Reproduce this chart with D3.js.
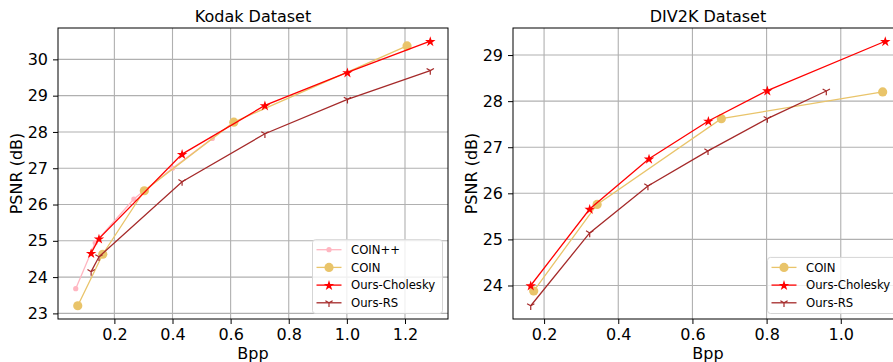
<!DOCTYPE html>
<html>
<head>
<meta charset="utf-8">
<script src="https://cdn.jsdelivr.net/npm/d3@7"></script>
<style>
    body { margin: 0; background: #fff; }
    svg { display: block; font-family: "DejaVu Sans", sans-serif; }
</style>
</head>
<body>
<div id="chart"></div>
<script>

// ---- Kodak data ----
let kodakCoinPPBpp = [0.067, 0.134, 0.267, 0.400, 0.537];
let kodakCoinPPPsnr = [23.68, 24.95, 26.15, 27.00, 27.82];
let kodakCoinBpp = [0.074, 0.160, 0.303, 0.611, 1.207];
let kodakCoinPsnr = [23.21, 24.63, 26.38, 28.27, 30.37];
let kodakOursBpp = [0.120, 0.147, 0.433, 0.718, 1.002, 1.287];
let kodakCholPsnr = [24.66, 25.06, 27.39, 28.73, 29.64, 30.50];
let kodakRSPsnr = [24.15, 24.56, 26.63, 27.95, 28.90, 29.69];

// ---- DIV2K data ----
let divCoinBpp = [0.172, 0.343, 0.678, 1.113];
let divCoinPsnr = [23.88, 25.76, 27.62, 28.20];
let divCholBpp = [0.164, 0.323, 0.483, 0.643, 0.802, 1.120];
let divCholPsnr = [24.00, 25.66, 26.75, 27.57, 28.23, 29.30];
let divRSBpp = [0.164, 0.323, 0.480, 0.642, 0.802, 0.961];
let divRSPsnr = [23.56, 25.14, 26.16, 26.92, 27.62, 28.22];

let kodakXTicks = [0.2, 0.4, 0.6, 0.8, 1.0, 1.2];
let kodakYTicks = [23, 24, 25, 26, 27, 28, 29, 30];
let divXTicks = [0.2, 0.4, 0.6, 0.8, 1.0];
let divYTicks = [24, 25, 26, 27, 28, 29];

let styles = {
    "COIN++": {color: "#ffb6c1", marker: "dot"},
    "COIN": {color: "#e9c46a", marker: "circle"},
    "Ours-Cholesky": {color: "#ff0000", marker: "star"},
    "Ours-RS": {color: "#a52a2a", marker: "tri"}
};

function zip(xs, ys) {
    return xs.map((x, i) => ({x: x, y: ys[i]}));
}

let svg = d3.select("#chart").append("svg")
    .attr("width", 893)
    .attr("height", 362);

class PanelVis {
    constructor(svg, opts) {
        this.svg = svg;
        this.opts = opts;
        this.initVis();
    }

    initVis() {
        let vis = this;
        let o = vis.opts;

        let allX = [], allY = [];
        o.series.forEach(s => s.points.forEach(p => { allX.push(p.x); allY.push(p.y); }));
        // matplotlib style 5% margins
        let xe = d3.extent(allX), ye = d3.extent(allY);
        let xm = (xe[1] - xe[0]) * 0.05, ym = (ye[1] - ye[0]) * 0.05;

        vis.x = d3.scaleLinear().domain([xe[0] - xm, xe[1] + xm]).range([o.left, o.left + o.width]);
        vis.y = d3.scaleLinear().domain([ye[0] - ym, ye[1] + ym]).range([o.bottom, o.top]);

        vis.g = vis.svg.append("g");

        // grid
        vis.g.append("g").selectAll("line").data(o.xTicks).join("line")
            .attr("x1", d => vis.x(d)).attr("x2", d => vis.x(d))
            .attr("y1", o.top).attr("y2", o.bottom)
            .attr("stroke", "#b0b0b0").attr("stroke-width", 1.1);
        vis.g.append("g").selectAll("line").data(o.yTicks).join("line")
            .attr("x1", o.left).attr("x2", o.left + o.width)
            .attr("y1", d => vis.y(d)).attr("y2", d => vis.y(d))
            .attr("stroke", "#b0b0b0").attr("stroke-width", 1.1);

        // axes
        let xAxis = d3.axisBottom(vis.x).tickValues(o.xTicks).tickFormat(d3.format(".1f")).tickSize(5).tickPadding(5);
        let yAxis = d3.axisLeft(vis.y).tickValues(o.yTicks).tickFormat(d3.format("d")).tickSize(5).tickPadding(5);

        let gx = vis.g.append("g").attr("transform", `translate(0,${o.bottom})`).call(xAxis);
        let gy = vis.g.append("g").attr("transform", `translate(${o.left},0)`).call(yAxis);
        [gx, gy].forEach(a => {
            a.select(".domain").remove();
            a.selectAll("line").attr("stroke", "#000").attr("stroke-width", 1);
            a.selectAll("text").attr("font-size", 16).attr("fill", "#000")
                .attr("font-family", "DejaVu Sans");
        });

        // frame
        vis.g.append("rect")
            .attr("x", o.left).attr("y", o.top)
            .attr("width", o.width).attr("height", o.bottom - o.top)
            .attr("fill", "none").attr("stroke", "#000").attr("stroke-width", 1);

        // series
        let line = d3.line().x(d => vis.x(d.x)).y(d => vis.y(d.y));
        o.series.forEach(s => {
            let st = styles[s.name];
            vis.g.append("path")
                .datum(s.points)
                .attr("d", line)
                .attr("fill", "none")
                .attr("stroke", st.color)
                .attr("stroke-width", 1.3);
            s.points.forEach(p => vis.drawMarker(vis.g, st, vis.x(p.x), vis.y(p.y)));
        });

        // title and labels
        vis.g.append("text")
            .attr("x", o.left + o.width / 2).attr("y", 22)
            .attr("text-anchor", "middle").attr("font-size", 16)
            .text(o.title);
        vis.g.append("text")
            .attr("x", o.left + o.width / 2).attr("y", 359)
            .attr("text-anchor", "middle").attr("font-size", 16)
            .text("Bpp");
        vis.g.append("text")
            .attr("transform", `translate(${o.left - 36},${(o.top + o.bottom) / 2}) rotate(-90)`)
            .attr("text-anchor", "middle").attr("font-size", 16)
            .text("PSNR (dB)");

        vis.drawLegend();
    }

    drawMarker(g, st, cx, cy) {
        if (st.marker === "dot") {
            g.append("circle").attr("cx", cx).attr("cy", cy).attr("r", 2.6).attr("fill", st.color);
        } else if (st.marker === "circle") {
            g.append("circle").attr("cx", cx).attr("cy", cy).attr("r", 4.6).attr("fill", st.color);
        } else if (st.marker === "star") {
            g.append("path")
                .attr("d", d3.symbol().type(d3.symbolStar).size(34)())
                .attr("transform", `translate(${cx},${cy + 0.5})`)
                .attr("fill", st.color);
        } else {
            let r = 4.2;
            g.append("path")
                .attr("d", `M${cx},${cy}L${cx},${cy + r}M${cx},${cy}L${cx - r * 0.87},${cy - r * 0.5}M${cx},${cy}L${cx + r * 0.87},${cy - r * 0.5}`)
                .attr("stroke", st.color).attr("stroke-width", 1.2).attr("fill", "none");
        }
    }

    drawLegend() {
        let vis = this;
        let o = vis.opts;
        let names = o.series.map(s => s.name);
        let rowH = 17.7;
        let right = o.left + o.width - 5.5;
        let bottom = o.bottom - 5.5;
        let w = 130;
        let h = names.length * rowH + 3;
        let left = right - w;
        let top = bottom - h;

        let lg = vis.g.append("g");
        lg.append("rect")
            .attr("x", left).attr("y", top).attr("width", w).attr("height", h)
            .attr("rx", 3)
            .attr("fill", "#fff").attr("fill-opacity", 0.8)
            .attr("stroke", "#d5d5d5").attr("stroke-width", 1);

        names.forEach((n, i) => {
            let st = styles[n];
            let cy = top + 10 + i * rowH;
            lg.append("line")
                .attr("x1", left + 4).attr("x2", left + 29)
                .attr("y1", cy).attr("y2", cy)
                .attr("stroke", st.color).attr("stroke-width", 1.3);
            vis.drawMarker(lg, st, left + 16.5, cy);
            lg.append("text")
                .attr("x", left + 38.5).attr("y", cy)
                .attr("dy", "0.36em")
                .attr("font-size", 11.7)
                .text(n);
        });
    }
}

new PanelVis(svg, {
    title: "Kodak Dataset",
    left: 58, width: 390, top: 28, bottom: 319,
    xTicks: kodakXTicks, yTicks: kodakYTicks,
    series: [
        {name: "COIN++", points: zip(kodakCoinPPBpp, kodakCoinPPPsnr)},
        {name: "COIN", points: zip(kodakCoinBpp, kodakCoinPsnr)},
        {name: "Ours-Cholesky", points: zip(kodakOursBpp, kodakCholPsnr)},
        {name: "Ours-RS", points: zip(kodakOursBpp, kodakRSPsnr)}
    ]
});

new PanelVis(svg, {
    title: "DIV2K Dataset",
    left: 513, width: 390, top: 28, bottom: 319,
    xTicks: divXTicks, yTicks: divYTicks,
    series: [
        {name: "COIN", points: zip(divCoinBpp, divCoinPsnr)},
        {name: "Ours-Cholesky", points: zip(divCholBpp, divCholPsnr)},
        {name: "Ours-RS", points: zip(divRSBpp, divRSPsnr)}
    ]
});

</script>
</body>
</html>
